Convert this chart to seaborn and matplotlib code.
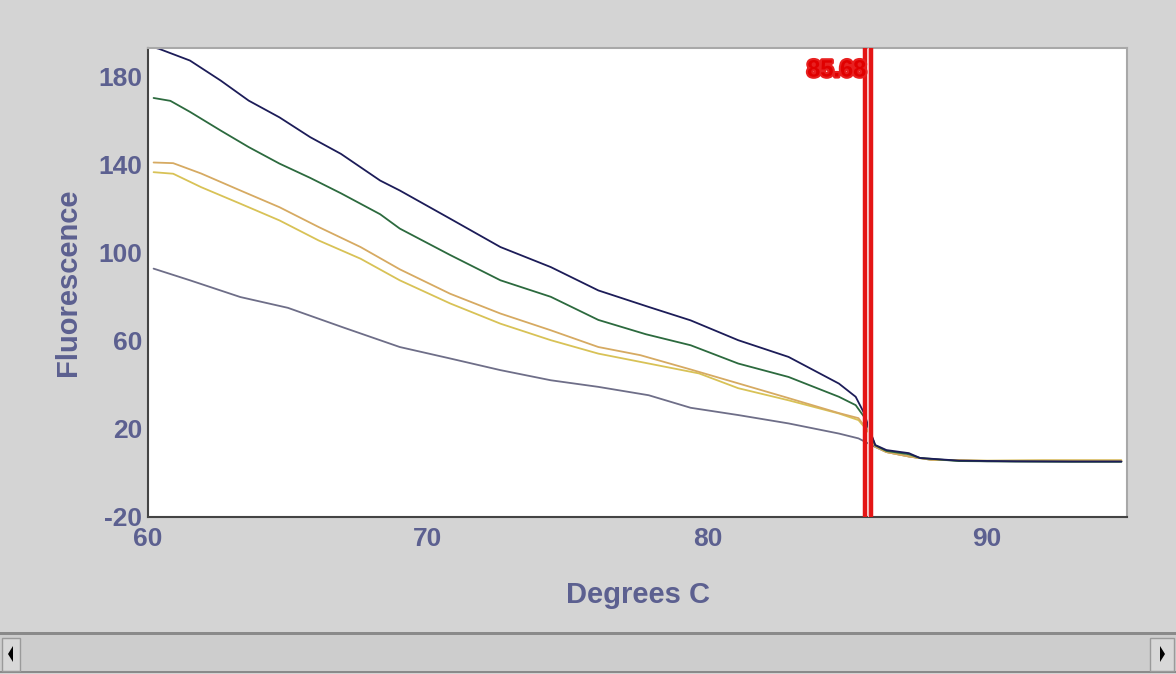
import numpy as np
import pandas as pd
import seaborn as sns
import matplotlib
matplotlib.use("Agg")
import matplotlib.pyplot as plt
from matplotlib.patches import Rectangle, Polygon
import matplotlib.patheffects as pe

# ---------------- data ----------------
navy_x = [60.0, 60.4, 61.5, 62.6, 63.6, 64.7, 65.8, 66.9, 68.3, 69.0, 70.8, 72.6, 74.4, 76.1, 77.9,
          79.4, 81.1, 82.9, 84.7, 85.3, 85.6, 85.8, 86.0, 86.4, 87.2, 87.6, 89.0, 91.0, 93.0, 94.8]
navy_y = [194.0, 192.6, 187.3, 178.2, 169.1, 161.5, 152.5, 144.9, 132.8, 128.3, 115.5, 102.6, 93.5, 82.9, 75.4,
          69.3, 60.3, 52.7, 40.6, 34.6, 27.2, 19.5, 12.7, 10.4, 9.0, 6.8, 5.6, 5.3, 5.2, 5.2]

green_x = [60.2, 60.8, 61.5, 62.6, 63.6, 64.7, 65.8, 66.9, 68.3, 69.0, 70.8, 72.6, 74.4, 76.1, 77.8,
           79.4, 81.1, 82.9, 84.7, 85.3, 85.6, 85.8, 86.0, 86.4, 87.2, 87.6, 89.0, 91.0, 93.0, 94.8]
green_y = [170.3, 169.0, 164.0, 155.5, 148.0, 140.5, 134.0, 127.0, 117.5, 111.0, 99.0, 87.5, 80.0, 69.5, 63.0,
           58.0, 49.7, 43.6, 34.6, 30.8, 25.5, 19.0, 12.5, 10.0, 8.5, 6.8, 5.4, 5.2, 5.1, 5.1]

tan_x = [60.2, 60.9, 61.9, 63.3, 64.7, 66.1, 67.6, 69.0, 70.8, 72.6, 74.4, 76.1, 77.6, 79.4,
         81.1, 82.9, 84.7, 85.4, 85.8, 86.0, 86.4, 87.2, 88.0, 90.0, 92.0, 94.8]
tan_y = [141.0, 140.7, 136.0, 128.3, 120.7, 111.7, 102.6, 92.5, 81.4, 72.4, 64.8, 57.2, 53.5, 47.0,
         40.7, 34.0, 27.2, 24.9, 18.0, 12.0, 9.5, 7.5, 6.0, 5.5, 5.6, 5.6]

yellow_x = [60.2, 60.9, 61.9, 63.3, 64.7, 66.1, 67.6, 69.0, 70.8, 72.6, 74.4, 76.1, 77.9, 79.7,
            81.1, 82.9, 84.7, 85.4, 85.8, 86.0, 86.4, 87.2, 88.0, 90.0, 92.0, 94.8]
yellow_y = [136.6, 135.9, 129.8, 122.3, 114.7, 105.6, 97.3, 87.5, 77.0, 67.8, 60.3, 54.2, 49.7, 45.2,
            38.5, 33.0, 27.0, 24.0, 18.0, 12.0, 9.5, 7.5, 6.0, 5.6, 5.8, 5.8]

gray_x = [60.2, 61.5, 63.3, 65.0, 67.0, 69.0, 70.8, 72.6, 74.4, 76.1, 77.9, 79.4, 81.1, 82.9,
          84.7, 85.4, 86.0, 86.4, 87.2, 88.0, 90.0, 94.8]
gray_y = [92.8, 87.5, 79.9, 75.0, 66.0, 57.2, 52.0, 46.7, 42.1, 39.1, 35.3, 29.6, 26.3, 22.5,
          17.9, 15.7, 11.8, 9.5, 7.5, 6.0, 5.3, 5.2]

series_names = ["gray", "yellow", "tan", "green", "navy"]
series_colors = ["#6e6e88", "#d8c256", "#d6aa62", "#2c6a3e", "#1c1c58"]

melt_temp = 85.73
melt_label = "85.68"

x_ticks = [60, 70, 80, 90]
y_ticks = [-20, 20, 60, 100, 140, 180]

# ---------------- build frame ----------------
frames = []
for name, xs, ys in [("gray", gray_x, gray_y), ("yellow", yellow_x, yellow_y),
                     ("tan", tan_x, tan_y), ("green", green_x, green_y),
                     ("navy", navy_x, navy_y)]:
    frames.append(pd.DataFrame({"Degrees C": xs, "Fluorescence": ys, "series": name}))
df = pd.concat(frames, ignore_index=True)

# ---------------- figure ----------------
sns.set_style("white")
plt.rcParams["font.family"] = ["Liberation Sans", "DejaVu Sans"]
plt.rcParams["axes.unicode_minus"] = False

bg = "#d4d4d4"
txt = "#5c6090"
fig = plt.figure(figsize=(11.76, 6.74), dpi=100, facecolor=bg)
ax = fig.add_axes([148 / 1176, 1 - 517 / 674, (1127 - 148) / 1176, (517 - 48) / 674])
ax.set_facecolor("white")

sns.lineplot(data=df, x="Degrees C", y="Fluorescence", hue="series",
             hue_order=series_names, palette=dict(zip(series_names, series_colors)),
             sort=False, estimator=None, lw=1.3, legend=False, ax=ax)

# melt marker
ax.axvline(melt_temp - 0.1, color="#e41515", lw=3.2, zorder=5)
ax.axvline(melt_temp + 0.1, color="#e41515", lw=3.2, zorder=5)
ax.axvline(melt_temp, color="#f4b0b0", lw=0.8, zorder=6)
ax.text(melt_temp - 0.05, 183, melt_label, color="#e00000", fontsize=17, fontweight="bold",
        ha="right", va="center", zorder=7,
        path_effects=[pe.withStroke(linewidth=3, foreground="#e82020")])

ax.set_xlim(60, 95)
ax.set_ylim(-20, 193)
ax.set_xticks(x_ticks)
ax.set_xticks([65, 75, 85], minor=True)
ax.set_yticks(y_ticks)
ax.set_yticks([0, 40, 80, 120, 160], minor=True)
ax.tick_params(axis="both", which="both", direction="inout", color="#444444", width=1,
               labelcolor=txt, labelsize=19)
ax.tick_params(which="major", length=8)
ax.tick_params(which="minor", length=7)
ax.tick_params(axis="x", pad=3)
ax.tick_params(axis="y", pad=0)
for lab in ax.get_xticklabels() + ax.get_yticklabels():
    lab.set_fontweight("bold")

for side in ["left", "bottom"]:
    ax.spines[side].set_color("#444444")
    ax.spines[side].set_linewidth(1.5)
for side in ["top", "right"]:
    ax.spines[side].set_color("#a8a8a8")
    ax.spines[side].set_linewidth(1.5)

ax.set_xlabel("Degrees C", color=txt, fontsize=21, fontweight="bold", labelpad=22)
ax.set_ylabel("Fluorescence", color=txt, fontsize=21, fontweight="bold", labelpad=12)

# ---------------- scrollbar decoration ----------------
H = 674.0
W = 1176.0
def fy(py):
    return 1 - py / H

fig.add_artist(Rectangle((0, fy(672)), 1, (672 - 632) / H, transform=fig.transFigure,
                         facecolor="#cdcdcd", edgecolor="none"))
fig.add_artist(Rectangle((0, fy(635)), 1, 3 / H, transform=fig.transFigure,
                         facecolor="#8a8a8a", edgecolor="none"))
fig.add_artist(Rectangle((0, fy(673)), 1, 2 / H, transform=fig.transFigure,
                         facecolor="#8a8a8a", edgecolor="none"))
for x0, x1 in [(2, 20), (1150, 1174)]:
    fig.add_artist(Rectangle((x0 / W, fy(671)), (x1 - x0) / W, (671 - 638) / H,
                             transform=fig.transFigure, facecolor="#d8d8d8",
                             edgecolor="#9a9a9a", lw=1))
fig.add_artist(Polygon([[8 / W, fy(654)], [13 / W, fy(646)], [13 / W, fy(662)]], closed=True,
                       transform=fig.transFigure, facecolor="black", edgecolor="none"))
fig.add_artist(Polygon([[1165 / W, fy(654)], [1160 / W, fy(646)], [1160 / W, fy(662)]], closed=True,
                       transform=fig.transFigure, facecolor="black", edgecolor="none"))

fig.savefig("out.png", dpi=100, facecolor=bg)
